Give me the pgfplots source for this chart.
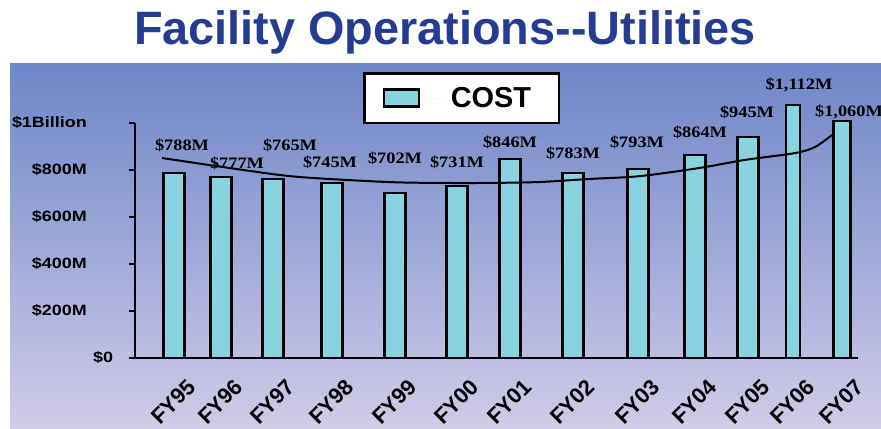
\documentclass[border=0pt]{standalone}
\usepackage{fontspec}
\setmainfont{Liberation Sans}
\newfontfamily\serifb{Liberation Serif}
\usepackage{pgfplots}
\pgfplotsset{compat=1.18}
\usepackage{pgfplotstable}
\definecolor{titleblue}{RGB}{36,60,145}
\definecolor{barcyan}{RGB}{137,211,224}
\definecolor{bgtop}{RGB}{110,134,200}
\definecolor{bgbot}{RGB}{208,204,232}

\pgfplotstableread{
x y
174 787
221 770
273 762
332 745
395 702
457 732
510 847
573 787
638 805
695 864
748 940
}\barsA
\pgfplotstableread{
x y
793 1077
}\barsB
\pgfplotstableread{
x y
842 1009
}\barsC
\pgfplotstableread{
lx ly label
182 906 \$788M
237 830 \$777M
290 906 \$765M
330 834 \$745M
395 851 \$702M
457 834 \$731M
510 919 \$846M
573 872 \$783M
637 919 \$793M
700 962 \$864M
747 1047 \$945M
799 1162 \$1,112M
849 1047 \$1,060M
}\labels

\begin{document}
\begin{tikzpicture}
\useasboundingbox (0,0) rectangle (881bp,429bp);
\fill[white] (0,0) rectangle (881bp,429bp);
\shade[top color=bgtop, bottom color=bgbot] (10bp,0) rectangle (881bp,365bp);
\node[anchor=base, font=\fontsize{47}{50}\selectfont\bfseries, text=titleblue, inner sep=0pt] at (445bp,384bp) {Facility Operations-{}-Utilities};
\begin{axis}[
  at={(135bp,71bp)}, anchor=south west,
  scale only axis, width=723bp, height=235bp,
  xmin=135, xmax=858, ymin=0, ymax=1000,
  clip=false,
  axis x line*=bottom, axis y line*=left,
  axis line style={line width=2bp, black},
  tick align=outside, major tick length=6bp,
  ytick style={line width=1.5bp, black},
  xtick style={draw=none},
  ytick={200,400,600,800,1000},
  yticklabels={\$200M,\$400M,\$600M,\$800M,\$1Billion},
  extra y ticks={0}, extra y tick labels={\$0},
  extra y tick style={yticklabel style={xshift=22bp}},
  yticklabel style={font=\fontsize{15}{15}\selectfont\bfseries, xscale=1.2, anchor=east, inner sep=0pt, xshift=-35bp},
  xtick={174,221,273,332,395,457,510,573,638,695,748,793,842},
  xticklabels={FY95,FY96,FY97,FY98,FY99,FY00,FY01,FY02,FY03,FY04,FY05,FY06,FY07},
  xticklabel style={font=\fontsize{22}{22}\selectfont\bfseries, inner sep=0pt, xshift=18bp, yshift=-19bp, rotate=45, anchor=east},
  legend style={at={(0.452,1.106)}, anchor=center, draw=black, line width=2.5bp, fill=white,
    inner xsep=18bp, inner ysep=10bp, font=\fontsize{29}{29}\selectfont\bfseries,
    nodes={inner xsep=6bp, inner ysep=4bp}},
]
\addplot[ybar, bar width=21, bar shift=0pt, fill=barcyan, draw=black, line width=2.5bp,
  legend image code/.code={\draw[fill=barcyan, draw=black, line width=2.5bp] (0bp,-8.5bp) rectangle (35bp,8.5bp); \path[draw=none] (0bp,0bp) -- (61bp,0bp);}]
  table[x=x,y=y]{\barsA};
\addlegendentry{COST\hspace*{4bp}}
\addplot[ybar, bar width=14, bar shift=0pt, fill=barcyan, draw=black, line width=2.5bp, forget plot]
  table[x=x,y=y]{\barsB};
\addplot[ybar, bar width=17, bar shift=0pt, fill=barcyan, draw=black, line width=2.5bp, forget plot]
  table[x=x,y=y]{\barsC};
\addplot[black, line width=2bp, smooth, forget plot] coordinates {
  (162,851) (250,796) (300,770) (387,749) (440,745) (490,745) (540,749)
  (590,762) (640,774) (700,809) (745,843) (795,872) (815,898) (832,949)};
\addplot[draw=none, mark=none, forget plot, nodes near coords, point meta=explicit symbolic,
  every node near coord/.append style={anchor=center, inner sep=0pt, font=\serifb\bfseries\fontsize{16}{16}\selectfont, xscale=1.15, text=black}]
  table[x=lx, y=ly, meta=label]{\labels};
\end{axis}
\end{tikzpicture}
\end{document}
